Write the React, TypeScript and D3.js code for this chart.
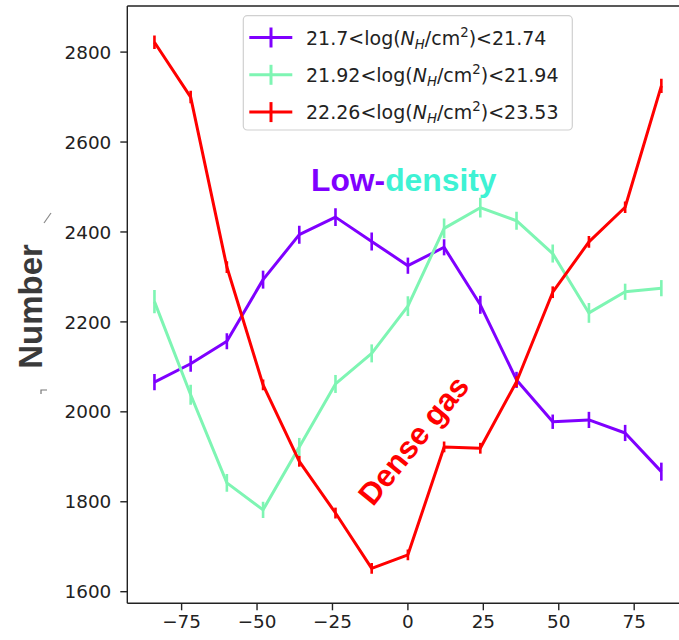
import React from "react";
import * as d3 from "d3";

const xValues = [-84, -72, -60, -48, -36, -24, -12, 0, 12, 24, 36, 48, 60, 72, 84];
const purpleValues = [2066, 2107, 2157, 2294, 2394, 2433, 2379, 2325, 2366, 2238, 2071, 1978, 1982, 1953, 1867];
const purpleErrors = [18, 18, 18, 20, 20, 20, 20, 18, 18, 20, 18, 16, 18, 18, 20];
const greenValues = [2245, 2038, 1842, 1782, 1922, 2062, 2130, 2235, 2408, 2454, 2425, 2352, 2220, 2267, 2275];
const greenErrors = [26, 22, 20, 18, 20, 20, 20, 22, 22, 22, 20, 20, 22, 18, 18];
const redValues = [2822, 2700, 2322, 2060, 1890, 1775, 1652, 1682, 1922, 1919, 2067, 2266, 2378, 2455, 2725];
const redErrors = [15, 14, 13, 12, 12, 12, 12, 12, 12, 12, 12, 13, 13, 13, 16];
const yTicks = [1600, 1800, 2000, 2200, 2400, 2600, 2800];
const xTicks = [-75, -50, -25, 0, 25, 50, 75];
const legendLow = ["21.7", "21.92", "22.26"];
const legendHigh = ["21.74", "21.94", "23.53"];

const colors = ["#7f00ff", "#7ef5b3", "#ff0000"];

export default function App() {
  const x = d3.scaleLinear().domain([-93, 93]).range([127.3, 688.5]);
  const y = d3.scaleLinear().domain([1600, 2800]).range([591.7, 52.1]);
  const plotTop = 6;
  const plotBottom = 603.3;
  const left = 127.3;

  const series = [
    { v: purpleValues, e: purpleErrors, c: colors[0] },
    { v: greenValues, e: greenErrors, c: colors[1] },
    { v: redValues, e: redErrors, c: colors[2] },
  ];

  const line = d3
    .line<[number, number]>()
    .x((d) => x(d[0]))
    .y((d) => y(d[1]));

  const tickFont = "DejaVu Sans, sans-serif";

  return (
    <div style={{ position: "absolute", left: 0, top: 0 }}>
      <svg width={679} height={640} style={{ display: "block", background: "#fff" }}>
        <defs>
          <clipPath id="plot">
            <rect x={left} y={plotTop} width={679 - left} height={plotBottom - plotTop} />
          </clipPath>
        </defs>
        <rect width={679} height={640} fill="#fff" />

        <g clipPath="url(#plot)">
          {series.map((s, si) => (
            <g key={si}>
              <path
                d={line(xValues.map((xv, i) => [xv, s.v[i]]) as [number, number][]) || ""}
                fill="none"
                stroke={s.c}
                strokeWidth={3}
                strokeLinejoin="round"
              />
              {xValues.map((xv, i) => (
                <line
                  key={i}
                  x1={x(xv)}
                  x2={x(xv)}
                  y1={y(s.v[i] - s.e[i])}
                  y2={y(s.v[i] + s.e[i])}
                  stroke={s.c}
                  strokeWidth={2.6}
                />
              ))}
            </g>
          ))}
        </g>

        {/* spines */}
        <line x1={left} x2={left} y1={plotTop} y2={plotBottom} stroke="#222" strokeWidth={1.4} />
        <line x1={left} x2={679} y1={plotBottom} y2={plotBottom} stroke="#222" strokeWidth={1.4} />
        <line x1={left} x2={679} y1={plotTop} y2={plotTop} stroke="#222" strokeWidth={1.4} />

        {/* y ticks */}
        {yTicks.map((t) => (
          <g key={t}>
            <line x1={left - 7} x2={left} y1={y(t)} y2={y(t)} stroke="#222" strokeWidth={1.4} />
            <text
              x={left - 16}
              y={y(t)}
              dy="0.36em"
              textAnchor="end"
              fontFamily={tickFont}
              fontSize={18.4}
              fill="#222"
            >
              {t}
            </text>
          </g>
        ))}

        {/* x ticks */}
        {xTicks.map((t) => (
          <g key={t}>
            <line x1={x(t)} x2={x(t)} y1={plotBottom} y2={plotBottom + 7} stroke="#222" strokeWidth={1.4} />
            <text
              x={x(t)}
              y={plotBottom + 25}
              textAnchor="middle"
              fontFamily={tickFont}
              fontSize={18.4}
              fill="#222"
            >
              {t < 0 ? "\u2212" + Math.abs(t) : String(t)}
            </text>
          </g>
        ))}

        {/* y label */}
        <text
          transform="translate(41.5,306.5) rotate(-90)"
          textAnchor="middle"
          fontFamily="Liberation Sans, Arial, sans-serif"
          fontWeight="bold"
          fontSize={33}
          fill="#3a3a3a"
        >
          Number
        </text>
        <line x1={44} x2={51} y1={223} y2={213} stroke="#888" strokeWidth={1.2} />
        <path d="M41,394 L41,390 L47,390" fill="none" stroke="#777" strokeWidth={1.2} />

        {/* legend */}
        <rect x={243.3} y={15.7} width={329} height={114.3} rx={4} fill="#fff" fillOpacity={0.85} stroke="#d0d0d0" strokeWidth={1.2} />
        {colors.map((c, i) => {
          const cy = 37.5 + i * 37.3;
          return (
            <g key={i}>
              <line x1={249.3} x2={292.3} y1={cy} y2={cy} stroke={c} strokeWidth={3} />
              <line x1={271} x2={271} y1={cy - 10} y2={cy + 10} stroke={c} strokeWidth={3} />
              <text x={306} y={cy + 7} fontFamily={tickFont} fontSize={19} fill="#222">
                {legendLow[i]}&lt;log(
                <tspan fontStyle="italic">N</tspan>
                <tspan fontStyle="italic" fontSize={13.3} dy={4}>H</tspan>
                <tspan dy={-4}>/cm</tspan>
                <tspan fontSize={13.3} dy={-8}>2</tspan>
                <tspan dy={8}>)&lt;{legendHigh[i]}</tspan>
              </text>
            </g>
          );
        })}

        {/* annotations */}
        <text
          x={311}
          y={191}
          fontFamily="Liberation Sans, Arial, sans-serif"
          fontWeight="bold"
          fontSize={31.8}
        >
          <tspan fill="#7f00ff">Low-</tspan>
          <tspan fill="#3ef2d4">density</tspan>
        </text>
        <text
          transform="translate(413,440) rotate(-51)"
          textAnchor="middle"
          dy="0.36em"
          fontFamily="Liberation Sans, Arial, sans-serif"
          fontWeight="bold"
          fontSize={31}
          fill="#ff0000"
        >
          Dense gas
        </text>
      </svg>
    </div>
  );
}
